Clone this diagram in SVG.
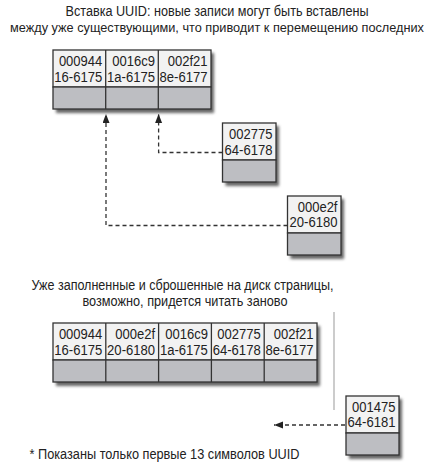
<svg xmlns="http://www.w3.org/2000/svg" width="434" height="468" viewBox="0 0 434 468">
<defs>
<style>
.t{font-family:"Liberation Sans",Arial,sans-serif;font-size:14px;fill:#222}
.c{font-family:"Liberation Sans",Arial,sans-serif;font-size:14px;fill:#222;text-anchor:end}
.m{text-anchor:middle}
.w{fill:#f2f2f2;stroke:#333;stroke-width:1.3}
.g{fill:#bdbec2;stroke:#333;stroke-width:1.3}
.sh{fill:#666;filter:url(#blur)}
.d{fill:none;stroke:#333;stroke-width:1.3;stroke-dasharray:4 3}
</style>
<filter id="blur" x="-20%" y="-20%" width="140%" height="140%"><feGaussianBlur stdDeviation="1.6"/></filter>
<marker id="ah" markerUnits="userSpaceOnUse" markerWidth="10" markerHeight="8" refX="9" refY="3.5" orient="auto">
<path d="M0,0 L9,3.5 L0,7 Z" fill="#222"/>
</marker>
</defs>
<rect width="434" height="468" fill="#fff"/>

<g id="title">
<text class="t m" x="217" y="16" textLength="303" lengthAdjust="spacingAndGlyphs">Вставка UUID: новые записи могут быть вставлены</text>
<text class="t m" x="217" y="32" style="font-size:12.4px" textLength="414" lengthAdjust="spacingAndGlyphs">между уже существующими, что приводит к перемещению последних</text>
</g>

<g id="page-top">
<rect class="sh" x="56" y="53" width="158" height="60"/>
<rect class="w" x="53" y="50" width="158" height="37"/>
<rect class="g" x="53" y="87" width="158" height="22"/>
<line x1="105.7" y1="50" x2="105.7" y2="109" stroke="#333" stroke-width="1.3"/>
<line x1="158.3" y1="50" x2="158.3" y2="109" stroke="#333" stroke-width="1.3"/>
<text class="c" x="102.3" y="66" textLength="43.4" lengthAdjust="spacingAndGlyphs">000944</text>
<text class="c" x="102.3" y="81.5" textLength="48" lengthAdjust="spacingAndGlyphs">16-6175</text>
<text class="c" x="155" y="66" textLength="42.7" lengthAdjust="spacingAndGlyphs">0016c9</text>
<text class="c" x="155" y="81.5" textLength="48" lengthAdjust="spacingAndGlyphs">1a-6175</text>
<text class="c" x="207.5" y="66" textLength="39.8" lengthAdjust="spacingAndGlyphs">002f21</text>
<text class="c" x="207.5" y="81.5" textLength="48" lengthAdjust="spacingAndGlyphs">8e-6177</text>
</g>

<g id="rec-002775">
<rect class="sh" x="225.5" y="126" width="53.5" height="60"/>
<rect class="w" x="222.5" y="123" width="53.5" height="37"/>
<rect class="g" x="222.5" y="160" width="53.5" height="22"/>
<text class="c" x="272.5" y="139" textLength="43.4" lengthAdjust="spacingAndGlyphs">002775</text>
<text class="c" x="272.5" y="154.5" textLength="48" lengthAdjust="spacingAndGlyphs">64-6178</text>
</g>

<g id="rec-000e2f">
<rect class="sh" x="290.5" y="199" width="53.5" height="60"/>
<rect class="w" x="287.5" y="196" width="53.5" height="37"/>
<rect class="g" x="287.5" y="233" width="53.5" height="22"/>
<text class="c" x="337.5" y="211.5" textLength="39.8" lengthAdjust="spacingAndGlyphs">000e2f</text>
<text class="c" x="337.5" y="227" textLength="48" lengthAdjust="spacingAndGlyphs">20-6180</text>
</g>

<g id="label-lower">
<text class="t m" x="182.5" y="290" textLength="302" lengthAdjust="spacingAndGlyphs">Уже заполненные и сброшенные на диск страницы,</text>
<text class="t m" x="185" y="306" textLength="205" lengthAdjust="spacingAndGlyphs">возможно, придется читать заново</text>
</g>

<g id="page-bottom">
<rect class="sh" x="56" y="326" width="264" height="60"/>
<rect class="w" x="53" y="323" width="264" height="37"/>
<rect class="g" x="53" y="360" width="264" height="22"/>
<line x1="105.8" y1="323" x2="105.8" y2="382" stroke="#333" stroke-width="1.3"/>
<line x1="158.6" y1="323" x2="158.6" y2="382" stroke="#333" stroke-width="1.3"/>
<line x1="211.4" y1="323" x2="211.4" y2="382" stroke="#333" stroke-width="1.3"/>
<line x1="264.2" y1="323" x2="264.2" y2="382" stroke="#333" stroke-width="1.3"/>
<text class="c" x="102.3" y="339" textLength="43.4" lengthAdjust="spacingAndGlyphs">000944</text>
<text class="c" x="102.3" y="354.5" textLength="48" lengthAdjust="spacingAndGlyphs">16-6175</text>
<text class="c" x="155.1" y="339" textLength="39.8" lengthAdjust="spacingAndGlyphs">000e2f</text>
<text class="c" x="155.1" y="354.5" textLength="48" lengthAdjust="spacingAndGlyphs">20-6180</text>
<text class="c" x="207.9" y="339" textLength="42.7" lengthAdjust="spacingAndGlyphs">0016c9</text>
<text class="c" x="207.9" y="354.5" textLength="48" lengthAdjust="spacingAndGlyphs">1a-6175</text>
<text class="c" x="260.7" y="339" textLength="43.4" lengthAdjust="spacingAndGlyphs">002775</text>
<text class="c" x="260.7" y="354.5" textLength="48" lengthAdjust="spacingAndGlyphs">64-6178</text>
<text class="c" x="313.5" y="339" textLength="39.8" lengthAdjust="spacingAndGlyphs">002f21</text>
<text class="c" x="313.5" y="354.5" textLength="48" lengthAdjust="spacingAndGlyphs">8e-6177</text>
</g>

<g id="divider">
<line x1="334" y1="312" x2="334" y2="410" stroke="#999" stroke-width="1"/>
</g>

<g id="rec-001475">
<rect class="sh" x="349" y="399" width="53" height="60"/>
<rect class="w" x="346" y="396" width="53" height="37"/>
<rect class="g" x="346" y="433" width="53" height="22"/>
<text class="c" x="395.5" y="411.5" textLength="43.4" lengthAdjust="spacingAndGlyphs">001475</text>
<text class="c" x="395.5" y="427" textLength="48" lengthAdjust="spacingAndGlyphs">64-6181</text>
</g>

<g id="connectors">
<polyline class="d" points="222.5,152.5 158.6,152.5 158.6,114" marker-end="url(#ah)"/>
<polyline class="d" points="287.5,225.5 106,225.5 106,114" marker-end="url(#ah)"/>
<polyline class="d" points="345,425 274,425" marker-end="url(#ah)"/>
</g>

<g id="footnote">
<text class="t" x="29.5" y="459" textLength="270" lengthAdjust="spacingAndGlyphs">* Показаны только первые 13 символов UUID</text>
</g>
</svg>
